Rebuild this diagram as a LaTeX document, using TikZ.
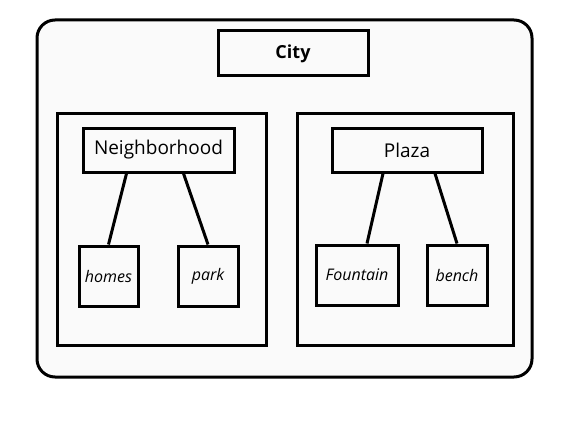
\documentclass[tikz,border=0pt]{standalone}
\usepackage{fontspec}
\setmainfont{Open Sans}
\begin{document}
\begin{tikzpicture}[x=1pt, y=-1pt,
          base/.style={rectangle, draw=black, line width=3pt, fill=black!2, inner sep=0pt},
          frame/.style={base, minimum width=209, minimum height=232},
          title/.style={base, minimum width=151, minimum height=44, font=\fontsize{19}{22}\selectfont},
          leaf/.style={base, minimum width=60, minimum height=60, font=\itshape\fontsize{16}{19}\selectfont},
          link/.style={line width=3pt}]
          % \draw [help lines] grid(576,428);
          \useasboundingbox (0,0) rectangle (576,428);
          \node[base, rounded corners=18, minimum width=495, minimum height=357] (city) at (284.5,198.5) {};
          \node[title, minimum width=150, minimum height=45, font=\bfseries\fontsize{18}{21}\selectfont] (citytitle) at (293,53.5) {City};
          \node[frame] (left) at (161.5,229) {};
          \node[frame, minimum width=216] (right) at (405,229) {};
          \node[title] (nbh) at (158.5,150) {Neighborhood};
          \node[leaf, minimum width=59] (homes) at (108.5,276) {homes};
          \node[leaf] (park) at (208,276) {park};
          \node[title, minimum width=150] (plaza) at (407,150) {Plaza};
          \node[leaf, minimum width=82] (fountain) at (357,275) {Fountain};
          \node[leaf] (bench) at (457,275) {bench};
          \draw[link] ([xshift=-32]nbh.south) -- (homes.north);
          \draw[link] ([xshift=25]nbh.south) -- (park.north);
          \draw[link] ([xshift=-24]plaza.south) -- ([xshift=10]fountain.north);
          \draw[link] ([xshift=28]plaza.south) -- (bench.north);
        \end{tikzpicture}
\end{document}
